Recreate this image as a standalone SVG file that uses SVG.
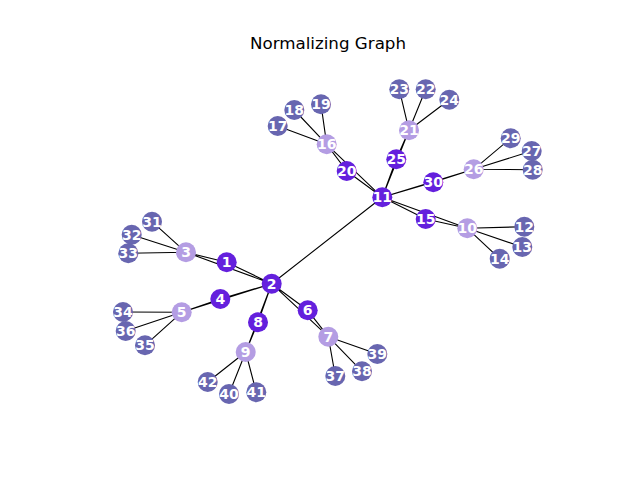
<svg xmlns="http://www.w3.org/2000/svg" width="640" height="480" viewBox="0 0 640 480">
<style>
.e{stroke:#000;stroke-width:1.1;fill:none}
.a{fill:#6420dd}
.b{fill:#b49de3}
.c{fill:#6866b0}
text.l{font-family:"DejaVu Sans",sans-serif;font-weight:bold;font-size:14px;fill:#fff;text-anchor:middle;dominant-baseline:central}
</style>
<rect width="640" height="480" fill="#fff"/>
<text x="328" y="49" font-family="DejaVu Sans, sans-serif" font-size="16.7px" text-anchor="middle" fill="#000">Normalizing Graph</text>
<g id="edges">
<path class="e" d="M271.7,283.7L226.7,262.3M271.7,283.7L186,252.3M226.7,262.3L186,252.3M271.7,283.7L220.3,299M271.7,283.7L181.7,312.3M220.3,299L181.7,312.3M271.7,283.7L307.7,310.3M271.7,283.7L328.3,336.7M307.7,310.3L328.3,336.7M271.7,283.7L258,322.3M271.7,283.7L245.7,352M258,322.3L245.7,352M271.7,283.7L382.3,197.3"/>
<path class="e" d="M186,252.3L152,221.7M186,252.3L131.7,234.7M186,252.3L128.3,253.3M181.7,312.3L123,312M181.7,312.3L125.7,331M181.7,312.3L145,345.3M245.7,352L207.7,382M245.7,352L229,394M245.7,352L256.3,392.3M328.3,336.7L335.3,376M328.3,336.7L362,371.3M328.3,336.7L377.3,354"/>
<path class="e" d="M382.3,197.3L346.7,171M382.3,197.3L326.7,144.3M346.7,171L326.7,144.3M382.3,197.3L396.3,159.3M382.3,197.3L409,130.3M396.3,159.3L409,130.3M382.3,197.3L433.3,182.3M382.3,197.3L473.7,169.3M433.3,182.3L473.7,169.3M382.3,197.3L425.7,219M382.3,197.3L467.3,228.3M425.7,219L467.3,228.3"/>
<path class="e" d="M326.7,144.3L277.7,126M326.7,144.3L294.3,110M326.7,144.3L321,104.3M409,130.3L399.3,89.3M409,130.3L425.7,89.3M409,130.3L449.3,99.7M473.7,169.3L510.7,138.3M473.7,169.3L531.7,151M473.7,169.3L532.7,169.7M467.3,228.3L524.3,226.7M467.3,228.3L522.3,247M467.3,228.3L499.7,258.7"/>
</g>
<g id="n1"><circle class="a" cx="226.7" cy="262.3" r="10"/><text class="l" x="226.7" y="262.3">1</text></g>
<g id="n2"><circle class="a" cx="271.7" cy="283.7" r="10"/><text class="l" x="271.7" y="283.7">2</text></g>
<g id="n3"><circle class="b" cx="186" cy="252.3" r="10"/><text class="l" x="186" y="252.3">3</text></g>
<g id="n4"><circle class="a" cx="220.3" cy="299" r="10"/><text class="l" x="220.3" y="299">4</text></g>
<g id="n5"><circle class="b" cx="181.7" cy="312.3" r="10"/><text class="l" x="181.7" y="312.3">5</text></g>
<g id="n6"><circle class="a" cx="307.7" cy="310.3" r="10"/><text class="l" x="307.7" y="310.3">6</text></g>
<g id="n7"><circle class="b" cx="328.3" cy="336.7" r="10"/><text class="l" x="328.3" y="336.7">7</text></g>
<g id="n8"><circle class="a" cx="258" cy="322.3" r="10"/><text class="l" x="258" y="322.3">8</text></g>
<g id="n9"><circle class="b" cx="245.7" cy="352" r="10"/><text class="l" x="245.7" y="352">9</text></g>
<g id="n10"><circle class="b" cx="467.3" cy="228.3" r="10"/><text class="l" x="467.3" y="228.3">10</text></g>
<g id="n11"><circle class="a" cx="382.3" cy="197.3" r="10"/><text class="l" x="382.3" y="197.3">11</text></g>
<g id="n12"><circle class="c" cx="524.3" cy="226.7" r="10"/><text class="l" x="524.3" y="226.7">12</text></g>
<g id="n13"><circle class="c" cx="522.3" cy="247" r="10"/><text class="l" x="522.3" y="247">13</text></g>
<g id="n14"><circle class="c" cx="499.7" cy="258.7" r="10"/><text class="l" x="499.7" y="258.7">14</text></g>
<g id="n15"><circle class="a" cx="425.7" cy="219" r="10"/><text class="l" x="425.7" y="219">15</text></g>
<g id="n16"><circle class="b" cx="326.7" cy="144.3" r="10"/><text class="l" x="326.7" y="144.3">16</text></g>
<g id="n17"><circle class="c" cx="277.7" cy="126" r="10"/><text class="l" x="277.7" y="126">17</text></g>
<g id="n18"><circle class="c" cx="294.3" cy="110" r="10"/><text class="l" x="294.3" y="110">18</text></g>
<g id="n19"><circle class="c" cx="321" cy="104.3" r="10"/><text class="l" x="321" y="104.3">19</text></g>
<g id="n20"><circle class="a" cx="346.7" cy="171" r="10"/><text class="l" x="346.7" y="171">20</text></g>
<g id="n21"><circle class="b" cx="409" cy="130.3" r="10"/><text class="l" x="409" y="130.3">21</text></g>
<g id="n22"><circle class="c" cx="425.7" cy="89.3" r="10"/><text class="l" x="425.7" y="89.3">22</text></g>
<g id="n23"><circle class="c" cx="399.3" cy="89.3" r="10"/><text class="l" x="399.3" y="89.3">23</text></g>
<g id="n24"><circle class="c" cx="449.3" cy="99.7" r="10"/><text class="l" x="449.3" y="99.7">24</text></g>
<g id="n25"><circle class="a" cx="396.3" cy="159.3" r="10"/><text class="l" x="396.3" y="159.3">25</text></g>
<g id="n26"><circle class="b" cx="473.7" cy="169.3" r="10"/><text class="l" x="473.7" y="169.3">26</text></g>
<g id="n27"><circle class="c" cx="531.7" cy="151" r="10"/><text class="l" x="531.7" y="151">27</text></g>
<g id="n28"><circle class="c" cx="532.7" cy="169.7" r="10"/><text class="l" x="532.7" y="169.7">28</text></g>
<g id="n29"><circle class="c" cx="510.7" cy="138.3" r="10"/><text class="l" x="510.7" y="138.3">29</text></g>
<g id="n30"><circle class="a" cx="433.3" cy="182.3" r="10"/><text class="l" x="433.3" y="182.3">30</text></g>
<g id="n31"><circle class="c" cx="152" cy="221.7" r="10"/><text class="l" x="152" y="221.7">31</text></g>
<g id="n32"><circle class="c" cx="131.7" cy="234.7" r="10"/><text class="l" x="131.7" y="234.7">32</text></g>
<g id="n33"><circle class="c" cx="128.3" cy="253.3" r="10"/><text class="l" x="128.3" y="253.3">33</text></g>
<g id="n34"><circle class="c" cx="123" cy="312" r="10"/><text class="l" x="123" y="312">34</text></g>
<g id="n35"><circle class="c" cx="145" cy="345.3" r="10"/><text class="l" x="145" y="345.3">35</text></g>
<g id="n36"><circle class="c" cx="125.7" cy="331" r="10"/><text class="l" x="125.7" y="331">36</text></g>
<g id="n37"><circle class="c" cx="335.3" cy="376" r="10"/><text class="l" x="335.3" y="376">37</text></g>
<g id="n38"><circle class="c" cx="362" cy="371.3" r="10"/><text class="l" x="362" y="371.3">38</text></g>
<g id="n39"><circle class="c" cx="377.3" cy="354" r="10"/><text class="l" x="377.3" y="354">39</text></g>
<g id="n40"><circle class="c" cx="229" cy="394" r="10"/><text class="l" x="229" y="394">40</text></g>
<g id="n41"><circle class="c" cx="256.3" cy="392.3" r="10"/><text class="l" x="256.3" y="392.3">41</text></g>
<g id="n42"><circle class="c" cx="207.7" cy="382" r="10"/><text class="l" x="207.7" y="382">42</text></g>
</svg>
